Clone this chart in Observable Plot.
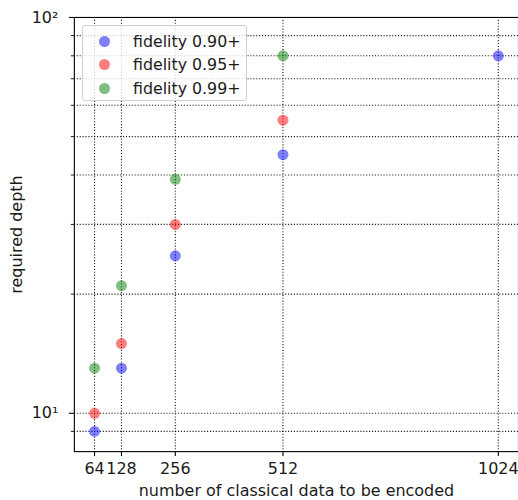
<!DOCTYPE html>
<html>
<head>
<meta charset="utf-8">
<script src="https://cdn.jsdelivr.net/npm/d3@7"></script>
<script src="https://cdn.jsdelivr.net/npm/@observablehq/plot@0.6"></script>
<style>
  html, body { margin: 0; padding: 0; background: white; overflow: hidden; }
  #wrap { position: relative; width: 518px; height: 500px; overflow: hidden; font-family: "DejaVu Sans", sans-serif; }
  #legend { position: absolute; left: 82px; top: 25px; width: 165px; height: 76px; box-sizing: border-box;
            border: 1px solid #d0d0d0; border-radius: 3px; background: rgba(255,255,255,0.8); }
  .row { position: absolute; left: 0; height: 20px; display: flex; align-items: center; font-size: 15.8px; color: #1a1a1a; }
  .sw { position: absolute; left: 16px; width: 11px; height: 11px; border-radius: 50%; opacity: 0.5; }
  .lab { position: absolute; left: 50px; white-space: nowrap; }
</style>
</head>
<body>
<div id="wrap"><div id="chart"></div><div id="legend"></div></div>
<script>
// ---- data ----
const sizes = [64, 128, 256, 512, 1024];
const depthF090 = [9, 13, 25, 45, 80];
const depthF095 = [10, 15, 30, 55];
const depthF099 = [13, 21, 39, 80];
const seriesNames = ["fidelity 0.90+", "fidelity 0.95+", "fidelity 0.99+"];
const seriesColors = ["#0000ff", "#ff0000", "#008000"];
const xTicks = [64, 128, 256, 512, 1024];
const yMajorTicks = [10, 100];
const yTickLabels = ["10\u00B9", "10\u00B2"];
const yMinorTicks = [9, 20, 30, 40, 50, 60, 70, 80, 90];

const seriesValues = [depthF090, depthF095, depthF099];
const points = [];
seriesValues.forEach((vals, s) => {
  vals.forEach((v, i) => points.push({x: sizes[i], y: v, series: seriesNames[s], color: seriesColors[s]}));
});

const gridStyle = {stroke: "black", strokeOpacity: 0.9, strokeWidth: 1.1, strokeDasharray: "1.1,1.8"};

const chart = Plot.plot({
  width: 519,
  height: 500,
  marginLeft: 74,
  marginRight: 0,
  marginTop: 17,
  marginBottom: 48,
  style: {fontFamily: "DejaVu Sans", fontSize: "16px", color: "#1a1a1a", background: "white", overflow: "visible"},
  x: {domain: [16, 1072]},
  y: {type: "log", domain: [8, 100]},
  marks: [
    Plot.gridX(xTicks, gridStyle),
    Plot.gridY([...yMinorTicks, ...yMajorTicks], gridStyle),
    Plot.axisX(xTicks, {
      tickSize: 5, tickPadding: 6.5, strokeWidth: 1.1, stroke: "black",
      tickFormat: d => String(d),
      label: "number of classical data to be encoded",
      labelAnchor: "center", labelOffset: 44, labelArrow: "none"
    }),
    Plot.axisY(yMajorTicks, {
      tickSize: 5, tickPadding: 11, strokeWidth: 1.1, stroke: "black",
      tickFormat: d => yTickLabels[yMajorTicks.indexOf(d)],
      label: "required depth",
      labelAnchor: "center", labelOffset: 64, labelArrow: "none"
    }),
    Plot.axisY(yMinorTicks, {tickSize: 3, strokeWidth: 0.9, stroke: "black", tickFormat: () => "", label: null}),
    Plot.dot(points, {x: "x", y: "y", fill: "color", fillOpacity: 0.5, stroke: "none", r: 5.5}),
    Plot.frame({stroke: "black", strokeWidth: 1.1})
  ]
});
document.getElementById("chart").appendChild(chart);

// legend
const legend = document.getElementById("legend");
const rowTops = [5, 28.5, 52];
seriesNames.forEach((name, i) => {
  const row = document.createElement("div");
  row.className = "row";
  row.style.top = rowTops[i] + "px";
  row.innerHTML = `<span class="sw" style="background:${seriesColors[i]}"></span><span class="lab">${name}</span>`;
  legend.appendChild(row);
});
</script>
</body>
</html>
